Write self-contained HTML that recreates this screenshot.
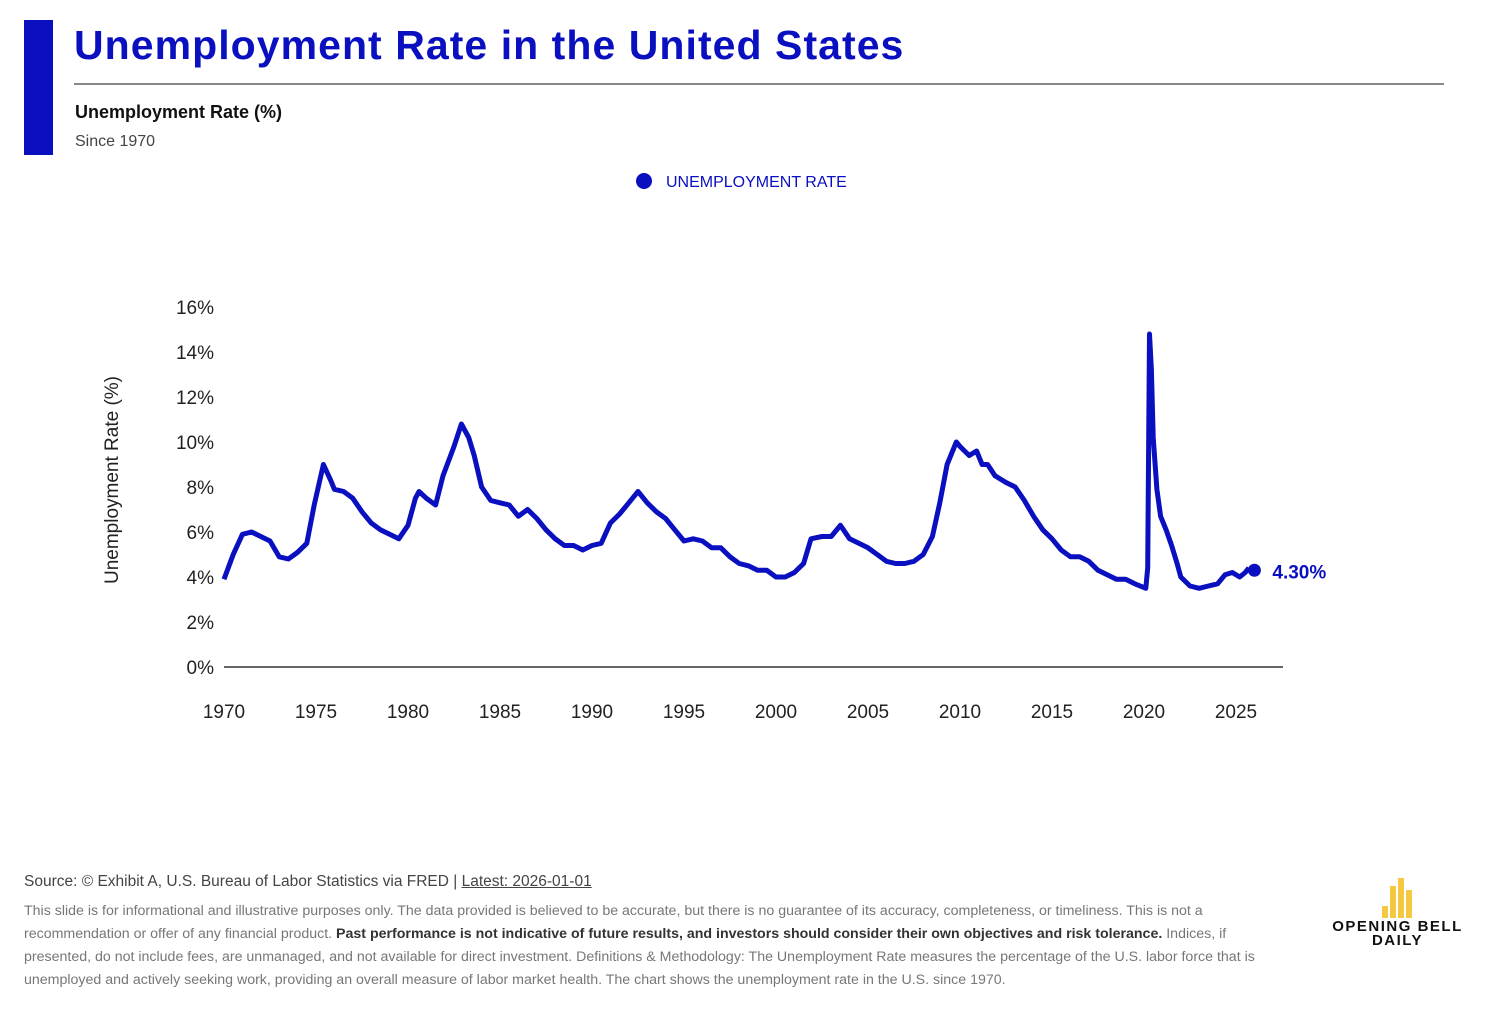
<!DOCTYPE html>
<html><head><meta charset="utf-8">
<style>
body{margin:0;width:1490px;height:1010px;background:#fff;font-family:"Liberation Sans",sans-serif;position:relative;overflow:hidden}
.abs{position:absolute}
</style></head><body>
<div class="abs" style="left:24px;top:20px;width:29px;height:135px;background:#0a0fbf"></div>
<div class="abs" style="left:74px;top:22px;font-size:41px;font-weight:bold;color:#0a0fbf;letter-spacing:1.05px">Unemployment Rate in the United States</div>
<div class="abs" style="left:74px;top:83px;width:1370px;height:2px;background:#888"></div>
<div class="abs" style="left:75px;top:102px;font-size:18px;font-weight:bold;color:#111">Unemployment Rate (%)</div>
<div class="abs" style="left:75px;top:133px;font-size:16px;color:#444">Since 1970</div>
<svg class="abs" style="left:0;top:0" width="1490" height="860" id="chart">
<circle cx="644" cy="181" r="8" fill="#0a0fbf"/>
<text x="666" y="187" font-size="16" fill="#0a0fbf">UNEMPLOYMENT RATE</text>
<text transform="translate(118,480) rotate(-90)" text-anchor="middle" font-size="19" fill="#222">Unemployment Rate (%)</text>
<g id="axes"></g>
<path id="line" fill="none" stroke="#0a0fbf" stroke-width="5" stroke-linejoin="round"/>
<circle id="last" r="6.5" fill="#0a0fbf"/>
<text id="lastlbl" font-size="19" font-weight="bold" fill="#0a0fbf"></text>
</svg>
<div class="abs" style="left:24px;top:873px;font-size:15.5px;color:#444">Source: © Exhibit A, U.S. Bureau of Labor Statistics via FRED | <span style="text-decoration:underline">Latest: 2026-01-01</span></div>
<div class="abs" style="left:24px;top:900px;width:1235px;font-size:14.2px;line-height:23px;color:#777">This slide is for informational and illustrative purposes only. The data provided is believed to be accurate, but there is no guarantee of its accuracy, completeness, or timeliness. This is not a recommendation or offer of any financial product. <b style="color:#333">Past performance is not indicative of future results, and investors should consider their own objectives and risk tolerance.</b> Indices, if presented, do not include fees, are unmanaged, and not available for direct investment. Definitions &amp; Methodology: The Unemployment Rate measures the percentage of the U.S. labor force that is unemployed and actively seeking work, providing an overall measure of labor market health. The chart shows the unemployment rate in the U.S. since 1970.</div>
<div class="abs" style="left:1330px;top:876px;width:135px;height:70px">
<div class="abs" style="left:52px;top:30px;width:6px;height:12px;background:#f5c842"></div>
<div class="abs" style="left:60px;top:10px;width:6px;height:32px;background:#f5c842"></div>
<div class="abs" style="left:68px;top:2px;width:6px;height:40px;background:#f5c842"></div>
<div class="abs" style="left:76px;top:14px;width:6px;height:28px;background:#f5c842"></div>
<div class="abs" style="left:0;top:44px;width:135px;text-align:center;font-size:15px;font-weight:bold;letter-spacing:1.5px;line-height:14px;color:#111">OPENING BELL<br>DAILY</div>
</div>
<script>
const yTicks=[0,2,4,6,8,10,12,14,16];
const xTicks=[1970,1975,1980,1985,1990,1995,2000,2005,2010,2015,2020,2025];
const dates=[1970.0,1970.5,1971.0,1971.5,1972.0,1972.5,1973.0,1973.5,1974.0,1974.5,1974.9,1975.4,1975.8,1976.0,1976.5,1977.0,1977.5,1978.0,1978.5,1979.0,1979.5,1980.0,1980.4,1980.6,1981.0,1981.5,1981.9,1982.5,1982.9,1983.3,1983.6,1984.0,1984.5,1985.0,1985.5,1986.0,1986.5,1987.0,1987.5,1988.0,1988.5,1989.0,1989.5,1990.0,1990.5,1991.0,1991.5,1992.0,1992.5,1993.0,1993.5,1994.0,1994.5,1995.0,1995.5,1996.0,1996.5,1997.0,1997.5,1998.0,1998.5,1999.0,1999.5,2000.0,2000.5,2001.0,2001.5,2001.9,2002.5,2003.0,2003.5,2004.0,2004.5,2005.0,2005.5,2006.0,2006.5,2007.0,2007.5,2008.0,2008.5,2008.9,2009.3,2009.8,2010.0,2010.5,2010.9,2011.2,2011.5,2011.9,2012.5,2013.0,2013.5,2014.0,2014.5,2015.0,2015.5,2016.0,2016.5,2017.0,2017.5,2018.0,2018.5,2019.0,2019.5,2020.1,2020.2,2020.3,2020.4,2020.5,2020.7,2020.9,2021.2,2021.5,2021.8,2022.0,2022.5,2023.0,2023.5,2024.0,2024.4,2024.8,2025.2,2025.5,2025.7];
const rates=[3.9,5.0,5.9,6.0,5.8,5.6,4.9,4.8,5.1,5.5,7.2,9.0,8.3,7.9,7.8,7.5,6.9,6.4,6.1,5.9,5.7,6.3,7.5,7.8,7.5,7.2,8.5,9.8,10.8,10.2,9.4,8.0,7.4,7.3,7.2,6.7,7.0,6.6,6.1,5.7,5.4,5.4,5.2,5.4,5.5,6.4,6.8,7.3,7.8,7.3,6.9,6.6,6.1,5.6,5.7,5.6,5.3,5.3,4.9,4.6,4.5,4.3,4.3,4.0,4.0,4.2,4.6,5.7,5.8,5.8,6.3,5.7,5.5,5.3,5.0,4.7,4.6,4.6,4.7,5.0,5.8,7.3,9.0,10.0,9.8,9.4,9.6,9.0,9.0,8.5,8.2,8.0,7.4,6.7,6.1,5.7,5.2,4.9,4.9,4.7,4.3,4.1,3.9,3.9,3.7,3.5,4.4,14.8,13.2,10.2,7.9,6.7,6.1,5.4,4.6,4.0,3.6,3.5,3.6,3.7,4.1,4.2,4.0,4.2,4.4];
const latestDate=2026.0, latestRate=4.3;
const X=y=>224+(y-1970)*1012/55, Y=v=>667-v*22.5;
const ns="http://www.w3.org/2000/svg", ax=document.getElementById('axes');
function mk(t,a){const e=document.createElementNS(ns,t);for(const k in a)e.setAttribute(k,a[k]);ax.appendChild(e);return e;}
let base=mk('line',{x1:224,x2:1283,y1:Y(0),y2:Y(0),stroke:'#333','stroke-width':1.5});


yTicks.forEach(v=>{const t=mk('text',{x:214,y:Y(v)+7,'text-anchor':'end','font-size':19,fill:'#222'});t.textContent=v+'%';

});
xTicks.forEach(v=>{const t=mk('text',{x:X(v),y:718,'text-anchor':'middle','font-size':19,fill:'#222'});t.textContent=v;

});
document.getElementById('line').setAttribute('d',dates.map((d,i)=>(i?'L':'M')+X(d).toFixed(1)+','+Y(rates[i]).toFixed(1)).join(''));
const c=document.getElementById('last');c.setAttribute('cx',X(latestDate));c.setAttribute('cy',Y(latestRate));
const l=document.getElementById('lastlbl');l.setAttribute('x',X(latestDate)+18);l.setAttribute('y',Y(latestRate)+8);l.textContent=latestRate.toFixed(2)+'%';
</script>
</body></html>
